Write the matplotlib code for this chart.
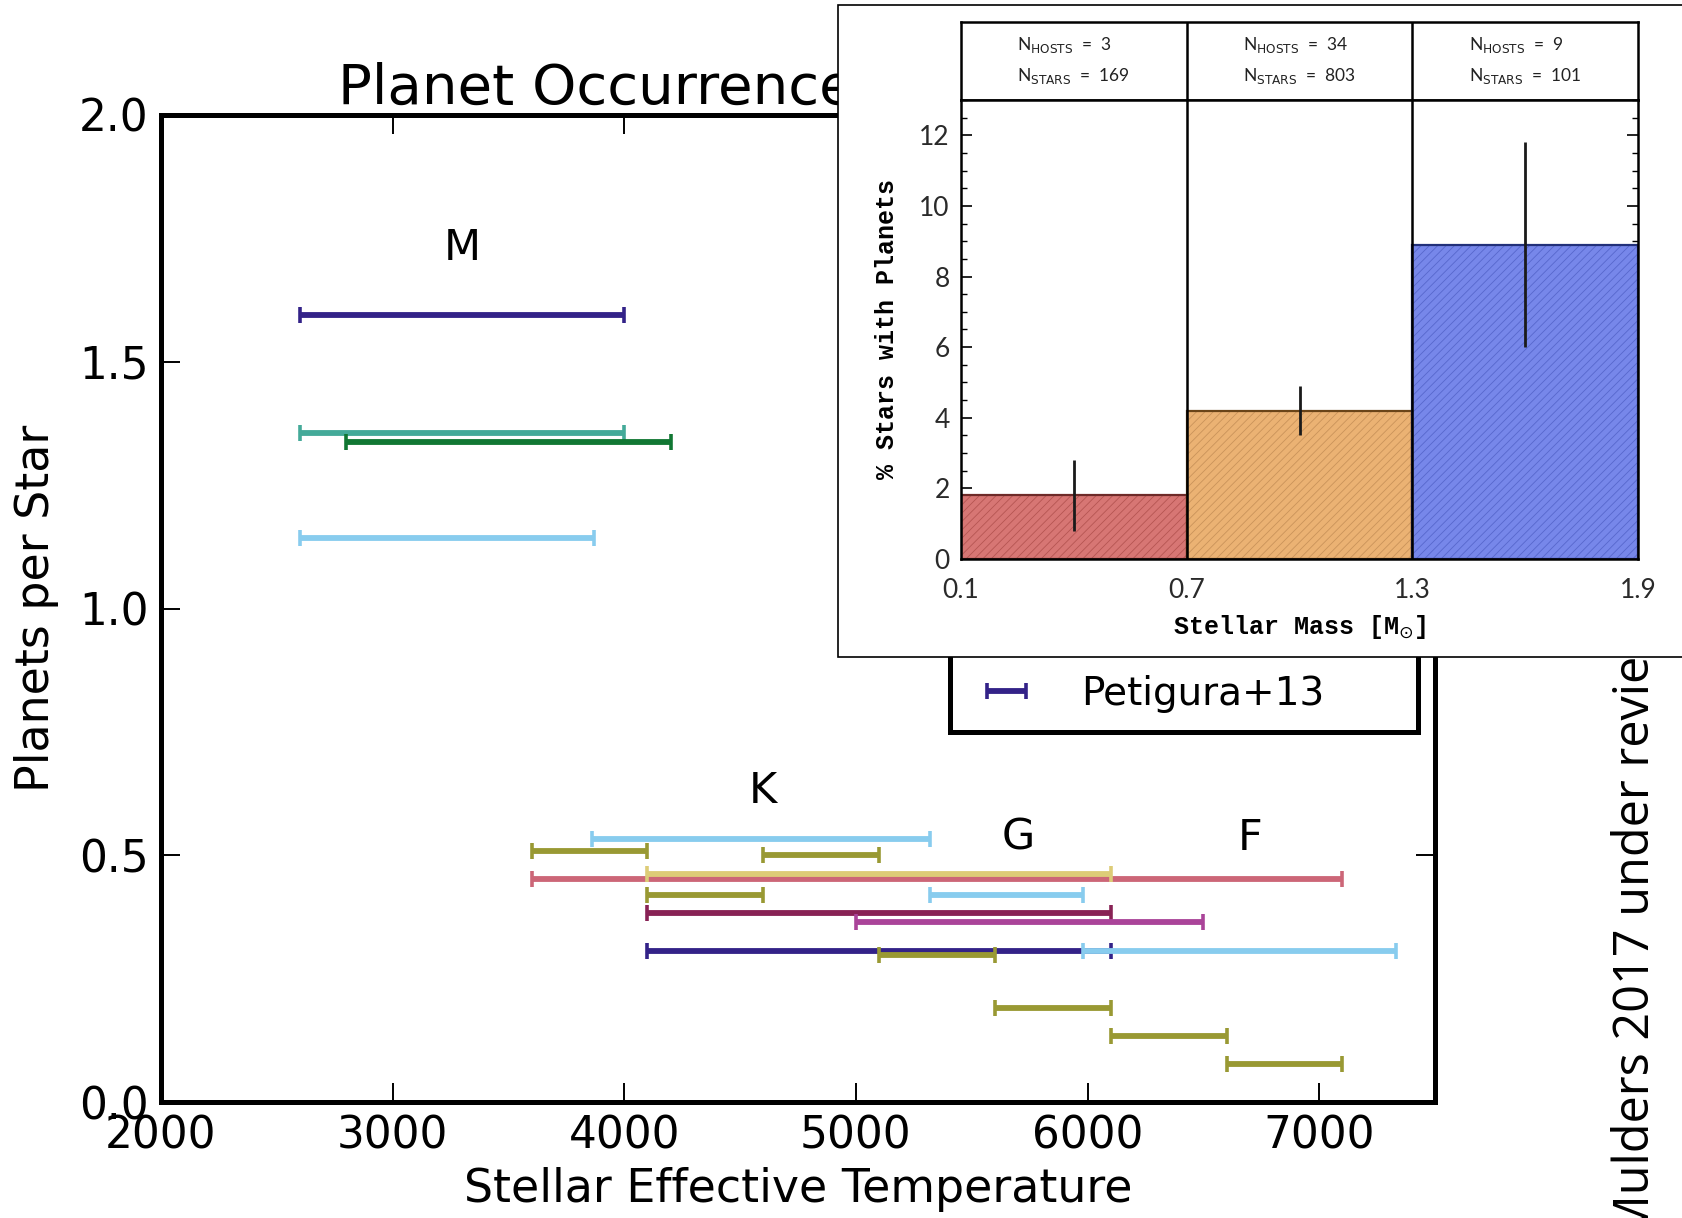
import matplotlib
matplotlib.use("Agg")
import matplotlib.pyplot as plt
import matplotlib.patches as mpatches
from matplotlib.ticker import MultipleLocator
import numpy as np

# ---------------- data ----------------
# main panel: temperature ranges and occurrence (planets per star)
t_lo = [2600, 2600, 2800, 2600,
        3860, 3600, 4600, 3600, 4100, 4100, 5320, 4100, 5000,
        4100, 5100, 5980, 5600, 6100, 6600]
t_hi = [4000, 4000, 4200, 3870,
        5320, 4100, 5100, 7100, 6100, 4600, 5980, 6100, 6500,
        6100, 5600, 7330, 6100, 6600, 7100]
occ = [1.595, 1.355, 1.337, 1.143,
       0.533, 0.509, 0.500, 0.452, 0.461, 0.420, 0.420, 0.382, 0.364,
       0.305, 0.298, 0.305, 0.190, 0.134, 0.076]
group = ["petigura", "teal", "green", "lblue",
         "lblue", "olive", "olive", "rose", "sand", "olive", "lblue", "wine", "purple",
         "petigura", "olive", "lblue", "olive", "olive", "olive"]

spt_labels = ["M", "K", "G", "F"]
spt_teff = [3300, 4600, 5700, 6700]
spt_occ = [1.73, 0.63, 0.535, 0.535]

legend_label = "Petigura+13"

# inset: occurrence vs stellar mass
mass_edges = [0.1, 0.7, 1.3, 1.9]
pct_planets = [1.8, 4.2, 8.9]
pct_err = [1.0, 0.7, 2.9]
n_hosts = [3, 34, 9]
n_stars = [169, 803, 101]

# ---------------- styles ----------------
colors = {"petigura": "#332288", "teal": "#44AA99", "green": "#117733",
          "lblue": "#88CCEE", "olive": "#999933", "rose": "#CC6677",
          "sand": "#DDCC77", "wine": "#882255", "purple": "#AA4499"}
zorders = {"rose": 2, "sand": 3}
bar_face = ["#D77674", "#EBB273", "#7787EA"]
bar_hatch = ["#B55552", "#C9935A", "#5767CC"]
bar_edge = ["#6E2A28", "#6A4418", "#22307A"]

W, H = 1682, 1218


def rect(l, t, r, b):
    return [l / W, 1 - b / H, (r - l) / W, (b - t) / H]


fig = plt.figure(figsize=(W / 100, H / 100), dpi=100)
plt.rcParams["hatch.linewidth"] = 0.6

# ---------------- main axes ----------------
ax = fig.add_axes(rect(161, 115, 1435, 1102))
ax.set_xlim(2000, 7500)
ax.set_ylim(0, 2.0)

handles = {}
for lo, hi, y, g in zip(t_lo, t_hi, occ, group):
    xc = (lo + hi) / 2.0
    xe = (hi - lo) / 2.0
    eb = ax.errorbar([xc], [y], xerr=[xe], fmt="none", ecolor=colors[g],
                     elinewidth=4.2, capsize=6, capthick=2.6,
                     zorder=zorders.get(g, 4))
    handles.setdefault(g, eb)

for lab, tx, ty in zip(spt_labels, spt_teff, spt_occ):
    ax.text(tx, ty, lab, ha="center", va="center", fontsize=31,
            family="DejaVu Sans")

ax.set_xticks([2000, 3000, 4000, 5000, 6000, 7000])
ax.set_yticks([0.0, 0.5, 1.0, 1.5, 2.0])
ax.set_xticklabels(["2000", "3000", "4000", "5000", "6000", "7000"])
ax.set_yticklabels(["0.0", "0.5", "1.0", "1.5", "2.0"])
ax.tick_params(direction="in", length=14, width=1.4, top=True, right=True,
               labelsize=31.5, pad=9)
for sp in ax.spines.values():
    sp.set_linewidth(3.6)

ax.set_xlabel("Stellar Effective Temperature", fontsize=33)
ax.set_ylabel("Planets per Star", fontsize=33)
ax.xaxis.set_label_coords(0.5, -0.066)
ax.yaxis.set_label_coords(-0.08, 0.5)

# legend (only the last entry visible below the inset)
frame = mpatches.Rectangle((950 / W, 1 - 732 / H), (1418 - 950) / W, (732 - 600) / H,
                           transform=fig.transFigure, facecolor="white",
                           edgecolor="black", linewidth=3.6, zorder=5)
fig.add_artist(frame)
leg = fig.legend([handles["petigura"]], [legend_label], loc="center left",
                 bbox_to_anchor=(985 / W, 1 - 694 / H), frameon=False,
                 borderpad=0, borderaxespad=0, handlelength=1.1,
                 handletextpad=1.36, prop=dict(size=28, family="DejaVu Sans"))
leg.set_zorder(6)

fig.text(338 / W, 1 - 104 / H, "Planet Occurrence", fontsize=40.5, ha="left",
         va="baseline", family="DejaVu Sans")

fig.text(1636 / W, -20 / H, "Mulders 2017 under review", rotation=90,
         ha="center", va="bottom", fontsize=35, family="Open Sans")

# ---------------- inset ----------------
box = mpatches.Rectangle((838 / W, 1 - 657 / H), (1700 - 838) / W, (657 - 5) / H,
                         transform=fig.transFigure, facecolor="white",
                         edgecolor="black", linewidth=1.2, zorder=10)
fig.add_artist(box)

inset_lab_font = dict(family="Liberation Mono", fontweight="bold")

axh = fig.add_axes(rect(961, 21.5, 1638, 100), zorder=11)
axi = fig.add_axes(rect(961, 100, 1638, 559), zorder=11)

lefts = mass_edges[:-1]
widths = [mass_edges[i + 1] - mass_edges[i] for i in range(len(lefts))]
centers = [l + w / 2 for l, w in zip(lefts, widths)]

axi.bar(lefts, pct_planets, width=widths, align="edge", color=bar_face,
        edgecolor=bar_hatch, hatch="////", linewidth=0, zorder=2)
axi.bar(lefts, pct_planets, width=widths, align="edge", fill=False,
        edgecolor=bar_edge, linewidth=1.6, zorder=2.5)
axi.errorbar(centers, pct_planets, yerr=pct_err, fmt="none", ecolor="#1a1a1a",
             elinewidth=2.0, capsize=0, zorder=3)
for e in mass_edges[1:-1]:
    axi.axvline(e, color="black", lw=1.8, zorder=4)
    axh.axvline(e, color="black", lw=1.8)

axi.set_xlim(mass_edges[0], mass_edges[-1])
axi.set_ylim(0, 13)
axi.set_xticks(mass_edges)
axi.set_xticklabels([f"{m:.1f}" for m in mass_edges])
axi.yaxis.set_major_locator(MultipleLocator(2))
axi.yaxis.set_minor_locator(MultipleLocator(0.5))
axi.tick_params(axis="y", which="major", direction="in", length=8, width=1.2,
                left=True, right=True, labelsize=19, pad=8)
axi.tick_params(axis="y", which="minor", direction="in", length=4, width=1.0,
                left=True, right=True)
axi.tick_params(axis="x", length=0, labelsize=19, pad=14)
for lbl in axi.get_xticklabels() + axi.get_yticklabels():
    lbl.set_family("Lato")
    lbl.set_color("#2a2a2a")
for sp in axi.spines.values():
    sp.set_linewidth(1.8)

axi.set_xlabel(r"Stellar Mass [M$_{\odot}$]", fontsize=18, **inset_lab_font)
axi.set_ylabel("% Stars with Planets", fontsize=18, **inset_lab_font)
axi.xaxis.set_label_coords(0.5, -0.118)
axi.yaxis.set_label_coords(-0.092, 0.5)

axh.set_xlim(mass_edges[0], mass_edges[-1])
axh.set_ylim(0, 1)
axh.set_xticks([])
axh.set_yticks([])
for sp in axh.spines.values():
    sp.set_linewidth(1.8)
for l, w, nh, ns in zip(lefts, widths, n_hosts, n_stars):
    axh.text(l + 0.25 * w, 0.70, r"N$_{\rm HOSTS}$  =  %d" % nh, fontsize=12.5,
             ha="left", va="center", family="Lato", color="#222222")
    axh.text(l + 0.25 * w, 0.31, r"N$_{\rm STARS}$  =  %d" % ns, fontsize=12.5,
             ha="left", va="center", family="Lato", color="#222222")

fig.savefig("out.png", dpi=100)
